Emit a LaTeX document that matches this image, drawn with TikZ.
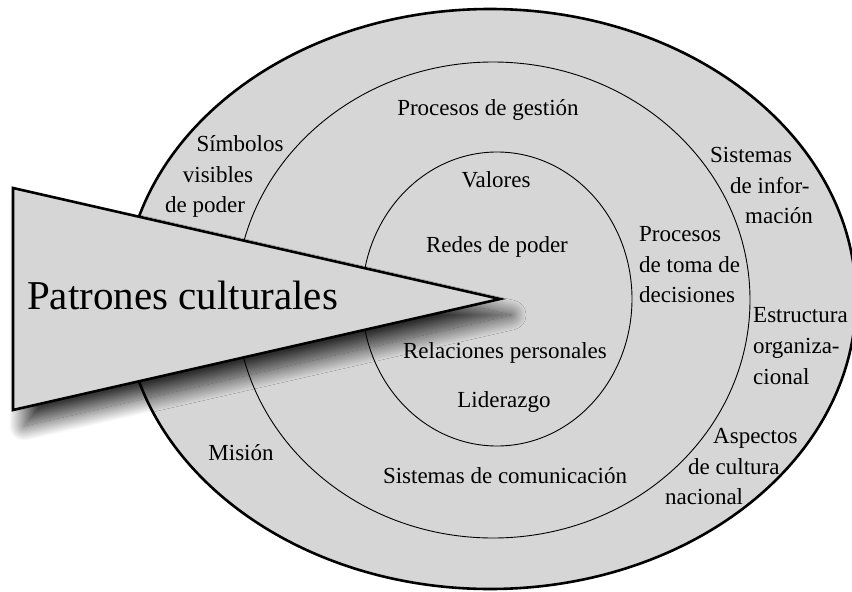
\documentclass[tikz,border=0pt]{standalone}
\usepackage{fontspec}
\setmainfont{Liberation Serif}
\usetikzlibrary{shadows.blur}
\definecolor{ringgray}{RGB}{214,214,214}
\tikzset{
  lbl/.style={inner sep=0pt, font=\fontsize{23}{30}\selectfont},
  lblw/.style={lbl, anchor=base west},
  lblc/.style={lbl, anchor=base},
  thickline/.style={line width=2.6pt},
  thinline/.style={line width=0.9pt}
}
\begin{document}
\begin{tikzpicture}[x=1pt,y=-1pt]
\useasboundingbox (0,0) rectangle (852,592);
\coordinate (co) at (490,299);
\coordinate (cm) at (493,300);
\coordinate (ci) at (497,299);
% rings
\filldraw[fill=ringgray, thickline] (co) ellipse [x radius=366pt, y radius=290pt];
\draw[thinline] (cm) ellipse [x radius=257pt, y radius=238pt];
\draw[thinline] (ci) ellipse [x radius=135pt, y radius=147pt];
% outer ring labels
\node[lblc] (simb1) at (240,151) {Símbolos};
\node[lblc] (simb2) at (218,182) {visibles};
\node[lblc] (simb3) at (205,212) {de poder};
\node[lblw] (si1) at (710,162) {Sistemas};
\node[lblw] (si2) at (730,193) {de infor-};
\node[lblw] (si3) at (745,223) {mación};
\node[lblw] (eo1) at (753,322) {Estructura};
\node[lblw] (eo2) at (753,353) {organiza-};
\node[lblw] (eo3) at (753,384) {cional};
\node[lblw] (ac1) at (713,443) {Aspectos};
\node[lblw] (ac2) at (688,474) {de cultura};
\node[lblw] (ac3) at (665,504) {nacional};
\node[lblc] (mis) at (241,460) {Misión};
% middle ring labels
\node[lblc] (pg) at (488,115) {Procesos de gestión};
\node[lblw] (pt1) at (639,241) {Procesos};
\node[lblw] (pt2) at (639,272) {de toma de};
\node[lblw] (pt3) at (639,302) {decisiones};
\node[lblc] (sc) at (505,483) {Sistemas de comunicación};
% inner labels
\node[lblc] (val) at (496,187) {Valores};
\node[lblc] (red) at (497,252) {Redes de poder};
\node[lblc] (rel) at (505,358) {Relaciones personales};
\node[lblc] (lid) at (504,407) {Liderazgo};
% pointer triangle
\coordinate (ta) at (13,188);
\coordinate (tb) at (13,410);
\coordinate (tc) at (500,299);
\filldraw[fill=ringgray, thickline, line join=miter,
  blur shadow={shadow xshift=11pt, shadow yshift=-16pt, shadow blur radius=15pt,
    shadow blur steps=30, shadow opacity=78}]
  (ta) -- (tc) -- (tb) -- cycle;
\node[inner sep=0pt, anchor=base west, font=\fontsize{41}{48}\selectfont] (pc) at (27,309) {Patrones culturales};
\end{tikzpicture}
\end{document}
